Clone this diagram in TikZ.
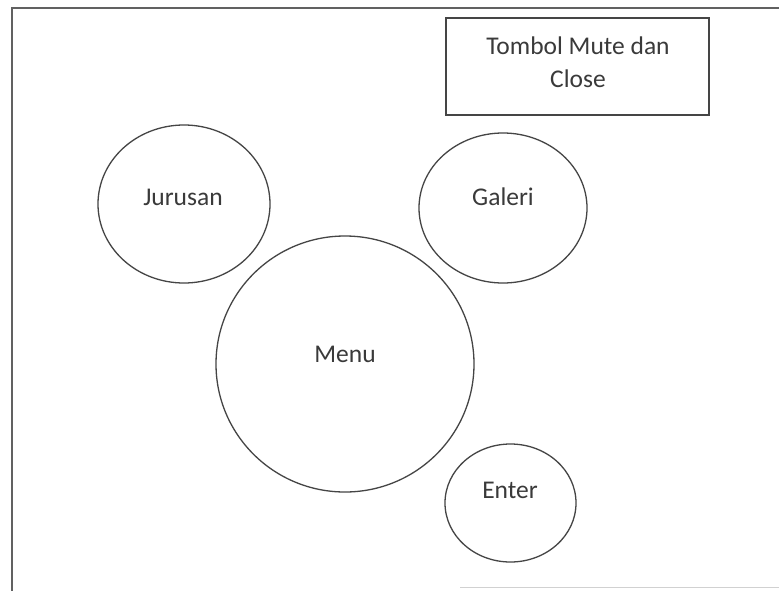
\documentclass[tikz,border=0pt]{standalone}
\usepackage{fontspec}
\setmainfont{Carlito}
\usetikzlibrary{shapes.geometric}
\definecolor{ink}{HTML}{454545}
\definecolor{txt}{HTML}{3A3A3A}
\tikzset{
  bubble/.style={draw=ink, line width=1.3pt, ellipse, inner sep=0pt},
  caption/.style={text=txt, font=\fontsize{25.5}{33}\selectfont, inner sep=0pt},
  panel/.style={draw=ink, line width=1.6pt},
}
\begin{document}
\begin{tikzpicture}[x=1pt, y=-1pt]
  \useasboundingbox (0,0) rectangle (779,590);
  \clip (0,0) rectangle (779,590);
  \fill[white] (0,0) rectangle (779,590);

  % outer screen frame
  \draw[draw=ink!85, line width=2.2pt] (12,8) rectangle (800,610);
  \draw[draw=black!18, line width=1pt] (460,587) -- (779,587);

  % mute / close button box
  \node[panel, minimum width=263pt, minimum height=97pt, inner sep=0pt] (btn) at (577.5,66.5) {};
  \node[caption, align=center] (btntxt) at (578,62) {Tombol Mute dan\\Close};

  % menu bubbles
  \node[bubble, minimum width=172pt, minimum height=158pt] (jur) at (184,204) {};
  \node[caption] (jurtxt) at (183,197) {Jurusan};

  \node[bubble, minimum width=168pt, minimum height=150pt] (gal) at (503,208) {};
  \node[caption] (galtxt) at (503,197) {Galeri};

  \node[bubble, minimum width=258pt, minimum height=256pt] (menu) at (345,364) {};
  \node[caption] (menutxt) at (345,354) {Menu};

  \node[bubble, minimum width=131pt, minimum height=118pt] (ent) at (510.5,503) {};
  \node[caption] (enttxt) at (510,490) {Enter};
\end{tikzpicture}
\end{document}
